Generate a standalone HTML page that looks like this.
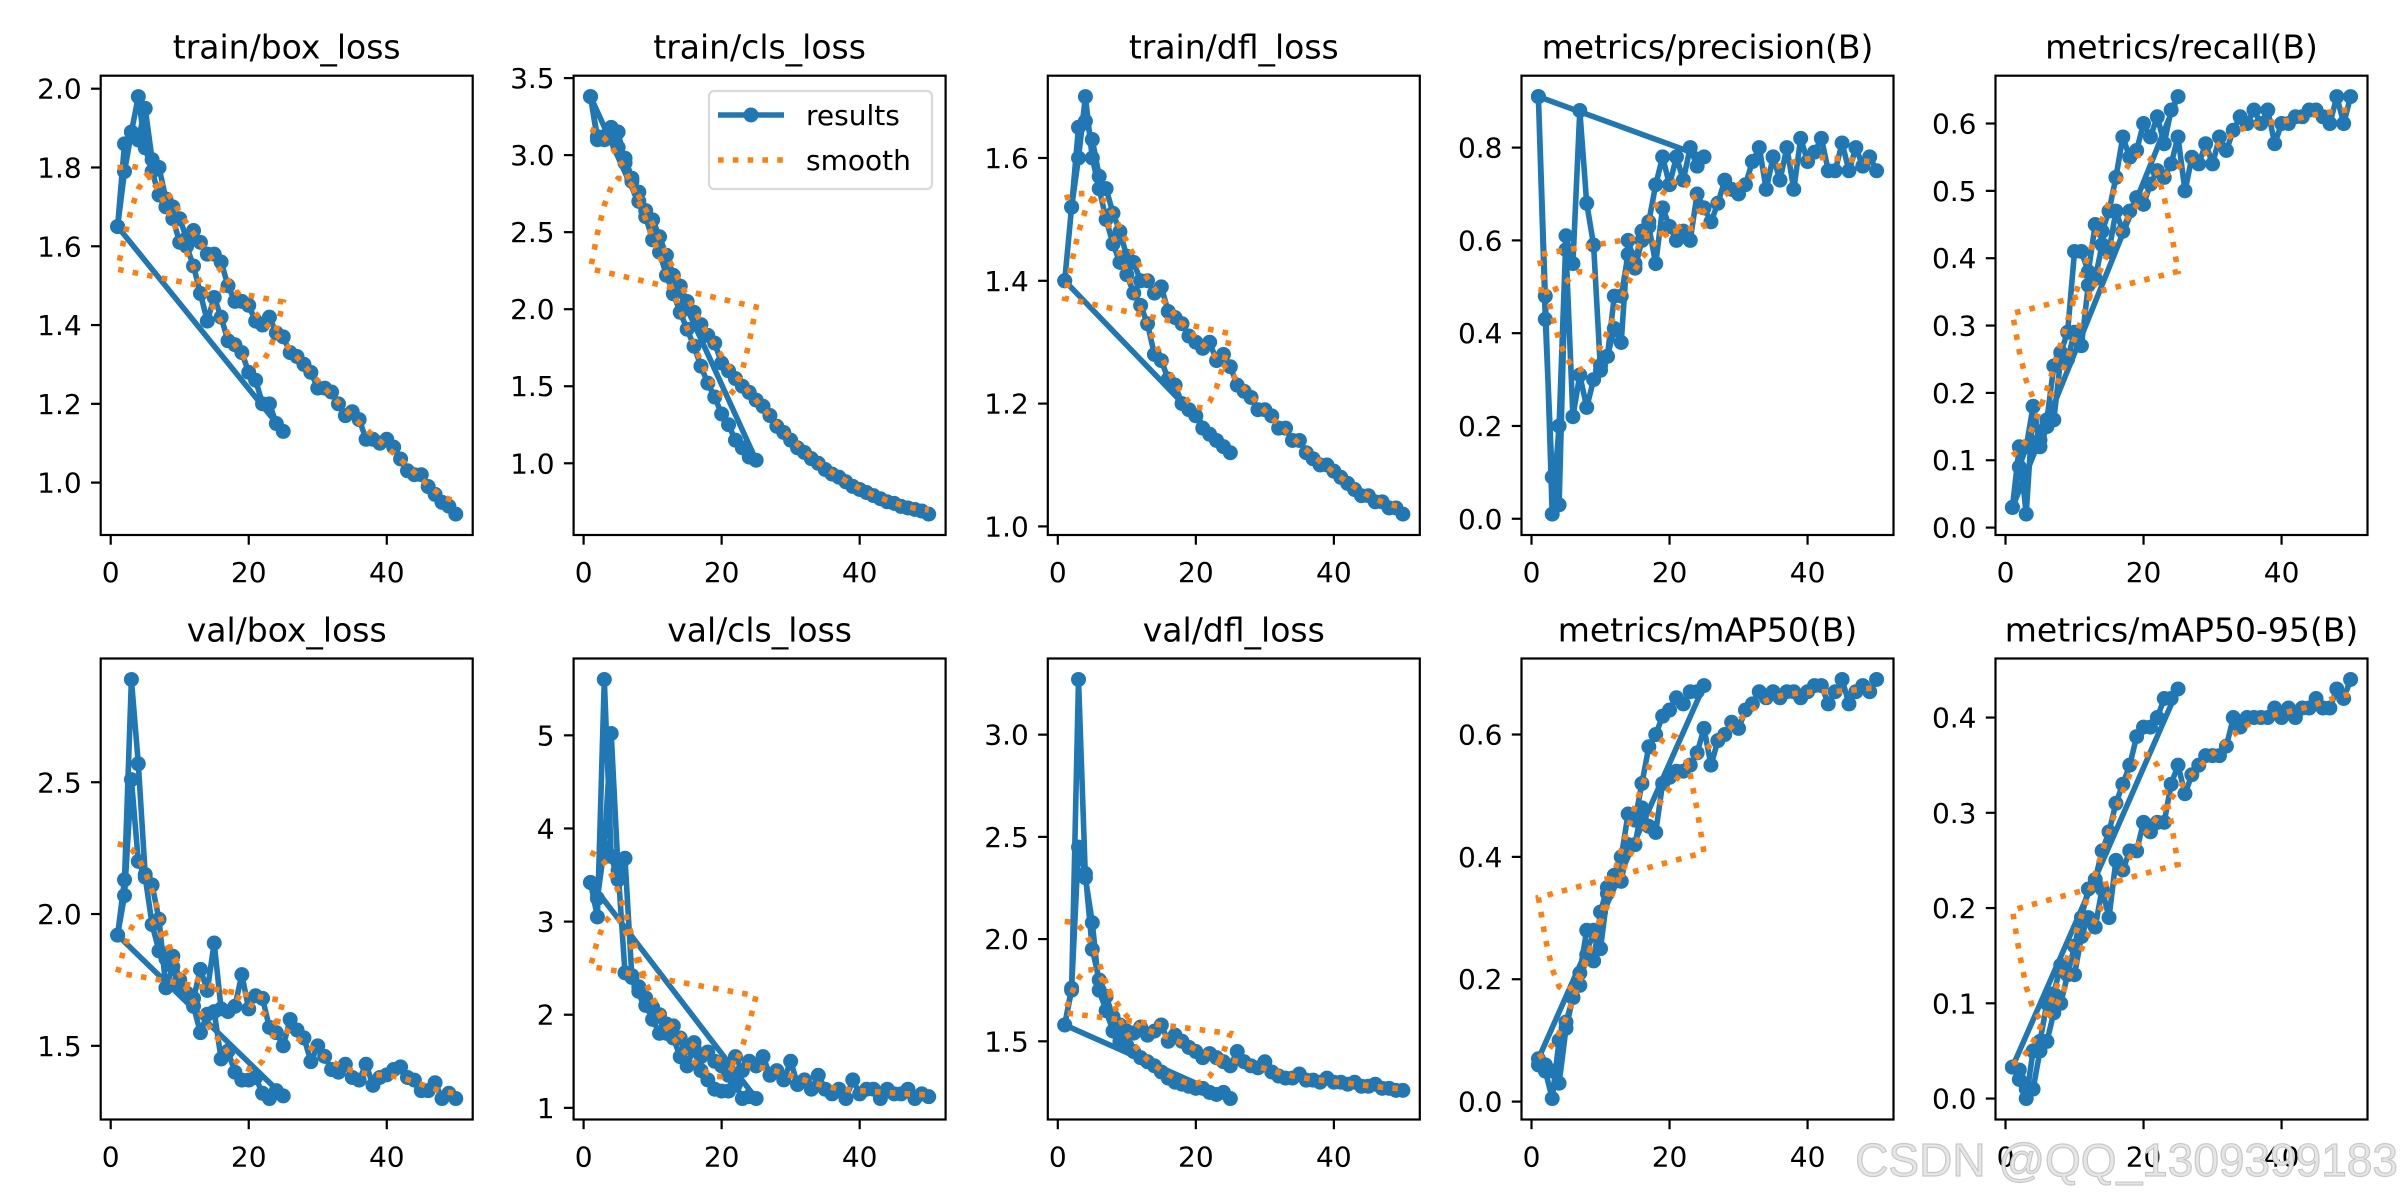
<!DOCTYPE html>
<html><head><meta charset="utf-8"><style>
html,body{margin:0;padding:0;background:#fff;}
svg{display:block;font-family:"DejaVu Sans","Liberation Sans",sans-serif;}
</style></head><body>
<svg id="fig" width="2400" height="1200" viewBox="0 0 2400 1200" xmlns="http://www.w3.org/2000/svg">
<rect width="2400" height="1200" fill="#fff"/>
</svg>
<script>
const epochsRun1 = [1,2,3,4,5,6,7,8,9,10,11,12,13,14,15,16,17,18,19,20,21,22,23,24,25];
const epochsRun2 = [1,2,3,4,5,6,7,8,9,10,11,12,13,14,15,16,17,18,19,20,21,22,23,24,25,26,27,28,29,30,31,32,33,34,35,36,37,38,39,40,41,42,43,44,45,46,47,48,49,50];
const titles = ["train/box_loss","train/cls_loss","train/dfl_loss","metrics/precision(B)","metrics/recall(B)","val/box_loss","val/cls_loss","val/dfl_loss","metrics/mAP50(B)","metrics/mAP50-95(B)"];
const xTicks = [0,20,40];
const xTickLabels = ["0","20","40"];
const yTicks = [[1.0,1.2,1.4,1.6,1.8,2.0],[1.0,1.5,2.0,2.5,3.0,3.5],[1.0,1.2,1.4,1.6],[0.0,0.2,0.4,0.6,0.8],[0.0,0.1,0.2,0.3,0.4,0.5,0.6],[1.5,2.0,2.5],[1,2,3,4,5],[1.5,2.0,2.5,3.0],[0.0,0.2,0.4,0.6],[0.0,0.1,0.2,0.3,0.4]];
const yTickLabels = [["1.0","1.2","1.4","1.6","1.8","2.0"],["1.0","1.5","2.0","2.5","3.0","3.5"],["1.0","1.2","1.4","1.6"],["0.0","0.2","0.4","0.6","0.8"],["0.0","0.1","0.2","0.3","0.4","0.5","0.6"],["1.5","2.0","2.5"],["1","2","3","4","5"],["1.5","2.0","2.5","3.0"],["0.0","0.2","0.4","0.6"],["0.0","0.1","0.2","0.3","0.4"]];
const run1Values = [
[1.65,1.79,1.89,1.98,1.85,1.79,1.73,1.70,1.67,1.61,1.60,1.55,1.48,1.41,1.47,1.42,1.36,1.35,1.33,1.28,1.26,1.20,1.20,1.15,1.13],
[3.38,3.10,3.12,3.18,3.15,2.95,2.83,2.70,2.60,2.45,2.37,2.22,2.10,1.98,1.87,1.76,1.63,1.52,1.43,1.32,1.25,1.15,1.10,1.04,1.02],
[1.40,1.52,1.60,1.70,1.60,1.55,1.50,1.46,1.43,1.41,1.38,1.36,1.33,1.28,1.27,1.24,1.23,1.20,1.19,1.18,1.16,1.15,1.14,1.13,1.12],
[0.91,0.48,0.01,0.20,0.61,0.55,0.88,0.68,0.59,0.32,0.35,0.41,0.38,0.60,0.55,0.62,0.64,0.72,0.78,0.72,0.78,0.73,0.80,0.76,0.78],
[0.03,0.09,0.12,0.18,0.13,0.16,0.24,0.26,0.29,0.41,0.41,0.38,0.45,0.44,0.47,0.52,0.58,0.55,0.56,0.60,0.58,0.61,0.57,0.62,0.64],
[1.92,2.13,2.89,2.57,2.15,2.11,1.98,1.72,1.80,1.72,1.70,1.65,1.55,1.62,1.63,1.45,1.48,1.40,1.37,1.37,1.38,1.32,1.30,1.33,1.31],
[3.42,3.05,5.60,3.70,3.45,3.68,2.40,2.25,2.10,1.95,1.80,1.90,1.75,1.55,1.45,1.65,1.40,1.30,1.20,1.18,1.18,1.25,1.10,1.12,1.10],
[1.58,1.75,3.27,2.30,2.08,1.75,1.65,1.55,1.50,1.48,1.45,1.42,1.40,1.38,1.35,1.32,1.30,1.29,1.28,1.27,1.27,1.25,1.24,1.25,1.22],
[0.06,0.05,0.005,0.10,0.13,0.17,0.19,0.24,0.23,0.31,0.35,0.37,0.40,0.47,0.46,0.52,0.58,0.60,0.63,0.64,0.66,0.65,0.67,0.67,0.68],
[0.033,0.02,0.0,0.05,0.06,0.10,0.11,0.14,0.13,0.16,0.19,0.22,0.23,0.26,0.28,0.31,0.33,0.35,0.38,0.39,0.39,0.40,0.42,0.42,0.43]
];
const run2Values = [
[1.65,1.86,1.89,1.87,1.95,1.82,1.80,1.72,1.70,1.67,1.62,1.64,1.61,1.58,1.58,1.56,1.50,1.46,1.46,1.45,1.41,1.40,1.42,1.38,1.37,1.33,1.32,1.30,1.28,1.24,1.24,1.23,1.20,1.17,1.18,1.16,1.11,1.11,1.10,1.11,1.09,1.06,1.03,1.02,1.02,0.99,0.97,0.95,0.94,0.92],
[3.38,3.12,3.10,3.17,3.05,2.98,2.85,2.76,2.64,2.58,2.47,2.35,2.22,2.15,2.05,1.98,1.90,1.83,1.78,1.65,1.60,1.55,1.50,1.46,1.41,1.37,1.31,1.24,1.20,1.15,1.10,1.07,1.03,1.00,0.96,0.93,0.91,0.88,0.85,0.83,0.81,0.79,0.77,0.75,0.74,0.72,0.71,0.70,0.69,0.67],
[1.40,1.52,1.65,1.66,1.63,1.57,1.55,1.51,1.48,1.44,1.43,1.40,1.40,1.38,1.39,1.35,1.34,1.33,1.31,1.30,1.29,1.30,1.27,1.28,1.26,1.23,1.22,1.21,1.19,1.19,1.18,1.16,1.16,1.14,1.14,1.12,1.11,1.10,1.10,1.09,1.08,1.07,1.06,1.05,1.05,1.04,1.04,1.03,1.03,1.02],
[0.91,0.43,0.09,0.03,0.58,0.22,0.31,0.24,0.30,0.33,0.35,0.48,0.48,0.57,0.54,0.60,0.63,0.55,0.67,0.63,0.60,0.62,0.60,0.70,0.67,0.64,0.68,0.73,0.71,0.70,0.72,0.77,0.80,0.71,0.78,0.73,0.80,0.71,0.82,0.77,0.79,0.82,0.75,0.75,0.81,0.75,0.80,0.76,0.78,0.75],
[0.03,0.12,0.02,0.18,0.12,0.15,0.16,0.25,0.25,0.29,0.27,0.36,0.37,0.42,0.41,0.47,0.44,0.47,0.49,0.48,0.51,0.53,0.52,0.54,0.58,0.50,0.55,0.54,0.57,0.54,0.58,0.56,0.59,0.61,0.60,0.62,0.60,0.62,0.57,0.60,0.60,0.61,0.61,0.62,0.62,0.61,0.60,0.64,0.60,0.64],
[1.92,2.07,2.51,2.20,2.14,1.96,1.86,1.83,1.84,1.75,1.70,1.68,1.79,1.71,1.89,1.64,1.63,1.65,1.77,1.64,1.69,1.68,1.57,1.55,1.50,1.60,1.56,1.53,1.44,1.50,1.46,1.41,1.40,1.43,1.38,1.37,1.43,1.35,1.38,1.39,1.41,1.42,1.38,1.37,1.33,1.33,1.36,1.30,1.32,1.30],
[3.42,3.25,3.80,5.02,3.55,2.45,2.42,2.30,2.18,2.08,2.00,1.80,1.88,1.75,1.65,1.70,1.55,1.60,1.50,1.45,1.35,1.55,1.40,1.50,1.45,1.55,1.35,1.40,1.30,1.50,1.25,1.30,1.20,1.35,1.20,1.15,1.20,1.10,1.30,1.15,1.20,1.20,1.10,1.20,1.15,1.15,1.20,1.10,1.15,1.12],
[1.58,1.76,2.45,2.32,1.95,1.80,1.72,1.62,1.58,1.55,1.54,1.57,1.53,1.55,1.58,1.50,1.53,1.50,1.47,1.45,1.42,1.44,1.42,1.40,1.38,1.45,1.40,1.38,1.37,1.40,1.35,1.33,1.32,1.32,1.34,1.31,1.31,1.30,1.32,1.30,1.30,1.29,1.30,1.28,1.28,1.29,1.27,1.27,1.26,1.26],
[0.07,0.06,0.05,0.03,0.12,0.17,0.21,0.28,0.28,0.25,0.34,0.36,0.36,0.42,0.42,0.48,0.45,0.44,0.52,0.53,0.54,0.54,0.55,0.57,0.61,0.55,0.59,0.60,0.62,0.61,0.64,0.65,0.67,0.66,0.67,0.66,0.67,0.67,0.66,0.67,0.68,0.68,0.65,0.67,0.69,0.65,0.67,0.68,0.67,0.69],
[0.033,0.03,0.01,0.01,0.05,0.06,0.09,0.10,0.13,0.13,0.17,0.19,0.18,0.22,0.19,0.25,0.24,0.26,0.26,0.29,0.28,0.29,0.29,0.33,0.35,0.32,0.34,0.35,0.36,0.36,0.36,0.37,0.40,0.39,0.40,0.40,0.40,0.40,0.41,0.40,0.41,0.40,0.41,0.41,0.42,0.41,0.41,0.43,0.42,0.44]
];

const NS = "http://www.w3.org/2000/svg";
const svg = document.getElementById("fig");
const LEFTS = [100.7, 573.6, 1047.8, 1521.5, 1995.5];
const W = 372, TOPS = [75.7, 658.5], HS = [459.3, 461];
function mk(tag, attrs, parent) {
  const e = document.createElementNS(NS, tag);
  for (const k in attrs) e.setAttribute(k, attrs[k]);
  (parent || svg).appendChild(e);
  return e;
}
function gauss(y, sigma) {
  const r = Math.round(4 * sigma), n = y.length, w = [];
  let s = 0;
  for (let i = -r; i <= r; i++) { const v = Math.exp(-0.5 * i * i / (sigma * sigma)); w.push(v); s += v; }
  const idx = i => { while (i < 0 || i >= n) { if (i < 0) i = -i - 1; if (i >= n) i = 2 * n - i - 1; } return i; };
  return y.map((_, k) => { let a = 0; for (let j = -r; j <= r; j++) a += w[j + r] * y[idx(k + j)]; return a / s; });
}
for (let p = 0; p < 10; p++) {
  const row = Math.floor(p / 5), col = p % 5;
  const L = LEFTS[col], T = TOPS[row], H = HS[row];
  const xs = epochsRun1.concat(epochsRun2);
  const ys = run1Values[p].concat(run2Values[p]);
  const sm = gauss(ys, 3);
  const all = ys.concat(sm);
  const ymin = Math.min(...all), ymax = Math.max(...all), yr = ymax - ymin;
  const y0 = ymin - 0.05 * yr, y1 = ymax + 0.05 * yr;
  const xmin = Math.min(...xs), xmax = Math.max(...xs), xr = xmax - xmin;
  const x0 = xmin - 0.05 * xr, x1 = xmax + 0.05 * xr;
  const sx = v => L + (v - x0) / (x1 - x0) * W;
  const sy = v => T + H - (v - y0) / (y1 - y0) * H;
  const g = mk("g", {});
  
  
  const clipId = "c" + p;
  const cp = mk("clipPath", { id: clipId }, g);
  mk("rect", { x: L, y: T, width: W, height: H }, cp);
  const ttl = mk("text", { x: L + W / 2, y: T - 17, "text-anchor": "middle", "font-size": 33, fill: "#000" }, g);
  ttl.textContent = titles[p];
  
  
  // series
  const pts = xs.map((x, i) => sx(x).toFixed(1) + "," + sy(ys[i]).toFixed(1)).join(" ");
  const plotG = mk("g", { "clip-path": "url(#" + clipId + ")" }, g);
  const line = mk("polyline", { points: pts, fill: "none", stroke: "#1f77b4", "stroke-width": 5.6, "stroke-linejoin": "round" }, plotG);
  
  
  xs.forEach((x, i) => {
    const c = mk("circle", { cx: sx(x), cy: sy(ys[i]), r: 7.5, fill: "#1f77b4" }, plotG);
    
    
  });
  const spts = xs.map((x, i) => sx(x).toFixed(1) + "," + sy(sm[i]).toFixed(1)).join(" ");
  const sl = mk("polyline", { points: spts, fill: "none", stroke: "#ff7f0e", "stroke-width": 5.6, "stroke-dasharray": "5.6 9.2" }, plotG);
  
  
  // axes frame
  const fr = mk("rect", { x: L, y: T, width: W, height: H, fill: "none", stroke: "#000", "stroke-width": 2.2 }, g);
  
  
  xTicks.forEach((t, i) => {
    const X = sx(t);
    mk("line", { x1: X, y1: T + H, x2: X, y2: T + H + 9.7, stroke: "#000", "stroke-width": 2.2 }, g);
    const tl = mk("text", { x: X, y: T + H + 47, "text-anchor": "middle", "font-size": 28, fill: "#000" }, g);
    tl.textContent = xTickLabels[i];
    
    
  });
  yTicks[p].forEach((t, i) => {
    const Y = sy(t);
    if (Y < T - 1 || Y > T + H + 1) return;
    mk("line", { x1: L - 9.7, y1: Y, x2: L, y2: Y, stroke: "#000", "stroke-width": 2.2 }, g);
    const tl = mk("text", { x: L - 19, y: Y + 10, "text-anchor": "end", "font-size": 28, fill: "#000" }, g);
    tl.textContent = yTickLabels[p][i];
    
    
  });
}
// legend in panel 2
const lg = mk("g", {});


mk("rect", { x: 709, y: 91, width: 223, height: 98, rx: 5, fill: "#fff", "fill-opacity": 0.8, stroke: "#d9d9d9", "stroke-width": 2.2 }, lg);
mk("line", { x1: 718, y1: 115, x2: 784, y2: 115, stroke: "#1f77b4", "stroke-width": 5.6 }, lg);
mk("circle", { cx: 751, cy: 115, r: 7.5, fill: "#1f77b4" }, lg);
mk("line", { x1: 718, y1: 160, x2: 784, y2: 160, stroke: "#ff7f0e", "stroke-width": 5.6, "stroke-dasharray": "5.6 9.2" }, lg);
const t1 = mk("text", { x: 806, y: 125, "font-size": 28, fill: "#000" }, lg);
t1.textContent = "results";


const t2 = mk("text", { x: 806, y: 170, "font-size": 28, fill: "#000" }, lg);
t2.textContent = "smooth";


// watermark
const wm = mk("text", { x: 2398, y: 1176, "text-anchor": "end", "font-size": 46, fill: "#e6e6e6", stroke: "#c8c8c8", "stroke-width": 1.2, "font-family": "Liberation Sans, sans-serif" });
wm.textContent = "CSDN @QQ_1309399183";


</script>
</body></html>
